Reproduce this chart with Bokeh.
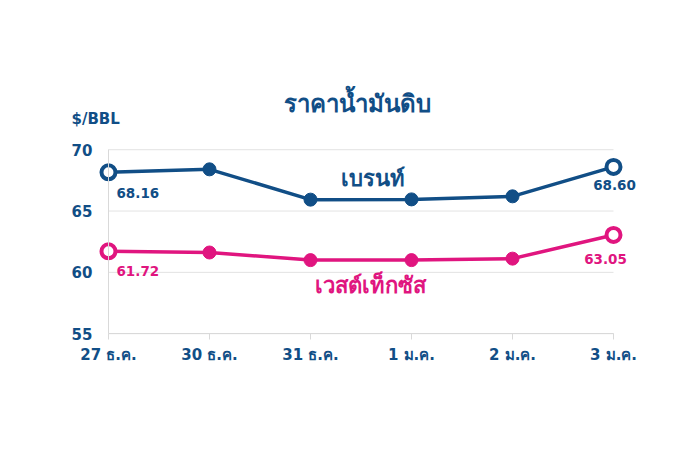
from bokeh.plotting import figure
from bokeh.models import ColumnDataSource, Label, FixedTicker, Range1d
from bokeh.embed import file_html
from bokeh.resources import INLINE

categories = ["27 ธ.ค.", "30 ธ.ค.", "31 ธ.ค.", "1 ม.ค.", "2 ม.ค.", "3 ม.ค."]
brent = [68.16, 68.40, 65.93, 65.95, 66.20, 68.60]
wti = [61.72, 61.62, 61.00, 61.00, 61.12, 63.05]
y_ticks = [55, 60, 65, 70]
title_text = "ราคาน้ำมันดิบ"
unit_text = "$/BBL"
brent_name = "เบรนท์"
wti_name = "เวสต์เท็กซัส"

BLUE = "#114e86"
PINK = "#e0157f"
FONT = "DejaVu Sans"

xs = list(range(len(categories)))
x0, x1 = xs[0], xs[-1]
y0, y1 = y_ticks[0], y_ticks[-1]

p = figure(width=690, height=440, output_backend="svg", toolbar_location=None,
           x_range=Range1d(x0 - 0.475, x1 + 0.297), y_range=Range1d(y0 - 3, y1 + 6.05),
           min_border_left=60, min_border_right=47, min_border_top=75, min_border_bottom=70)
p.outline_line_color = None
p.background_fill_color = "white"
p.xgrid.grid_line_color = None
p.ygrid.grid_line_color = None

# horizontal grid lines limited to the category span
grid = ColumnDataSource(dict(x0=[x0] * len(y_ticks), x1=[x1] * len(y_ticks), y=y_ticks))
p.segment(x0="x0", y0="y", x1="x1", y1="y", source=grid, line_color="#e3e3e3", line_width=1)

# axes
p.yaxis.ticker = FixedTicker(ticks=y_ticks)
p.xaxis.ticker = FixedTicker(ticks=xs)
p.xaxis.major_label_overrides = {i: c for i, c in enumerate(categories)}
p.xaxis.bounds = (x0, x1)
p.yaxis.bounds = (y0, y1)
p.yaxis.fixed_location = x0
p.xaxis.fixed_location = y0
for ax in (p.xaxis, p.yaxis):
    ax.axis_line_color = "#d9d9d9"
    ax.axis_line_width = 1
    ax.major_label_text_color = BLUE
    ax.major_label_text_font = FONT
    ax.major_label_text_font_style = "bold"
    ax.major_label_text_font_size = "15px"
    ax.minor_tick_line_color = None
p.yaxis.major_tick_line_color = None
p.yaxis.major_tick_out = 0
p.yaxis.major_label_standoff = 16
p.xaxis.major_tick_line_color = "#d9d9d9"
p.xaxis.major_tick_out = 6
p.xaxis.major_tick_in = 0
p.xaxis.major_label_standoff = 6

src_b = ColumnDataSource(dict(x=xs, y=brent))
src_w = ColumnDataSource(dict(x=xs, y=wti))

for src, col, vals in ((src_b, BLUE, brent), (src_w, PINK, wti)):
    p.line("x", "y", source=src, line_color=col, line_width=3.5)
    mid = ColumnDataSource(dict(x=xs[1:-1], y=vals[1:-1]))
    p.scatter("x", "y", source=mid, size=13, fill_color=col, line_color=col)
    ends = ColumnDataSource(dict(x=[xs[0], xs[-1]], y=[vals[0], vals[-1]]))
    p.scatter("x", "y", source=ends, size=14, fill_color="white", line_color=col, line_width=4)

def lab(x, y, text, color, size, xo=0, yo=0, align="left", baseline="middle"):
    p.add_layout(Label(x=x, y=y, text=text, x_offset=xo, y_offset=yo,
                       text_color=color, text_font=FONT, text_font_style="bold",
                       text_font_size=size, text_align=align, text_baseline=baseline))

lab(xs[0], brent[0], f"{brent[0]:.2f}", BLUE, "13.5px", xo=8, yo=-21)
lab(xs[-1], brent[-1], f"{brent[-1]:.2f}", BLUE, "13.5px", xo=1, yo=-18, align="center")
lab(xs[0], wti[0], f"{wti[0]:.2f}", PINK, "13.5px", xo=8, yo=-20)
lab(xs[-1], wti[-1], f"{wti[-1]:.2f}", PINK, "13.5px", xo=-8, yo=-24, align="center")

lab(2.62, 67.64, brent_name, BLUE, "22px", align="center")
lab(2.59, 58.9, wti_name, PINK, "22px", align="center")

lab(2.47, 73.75, title_text, BLUE, "24px", align="center")
lab(x0, 72.5, unit_text, BLUE, "15px", xo=-37)

open("out.html", "w").write(file_html(p, INLINE))
